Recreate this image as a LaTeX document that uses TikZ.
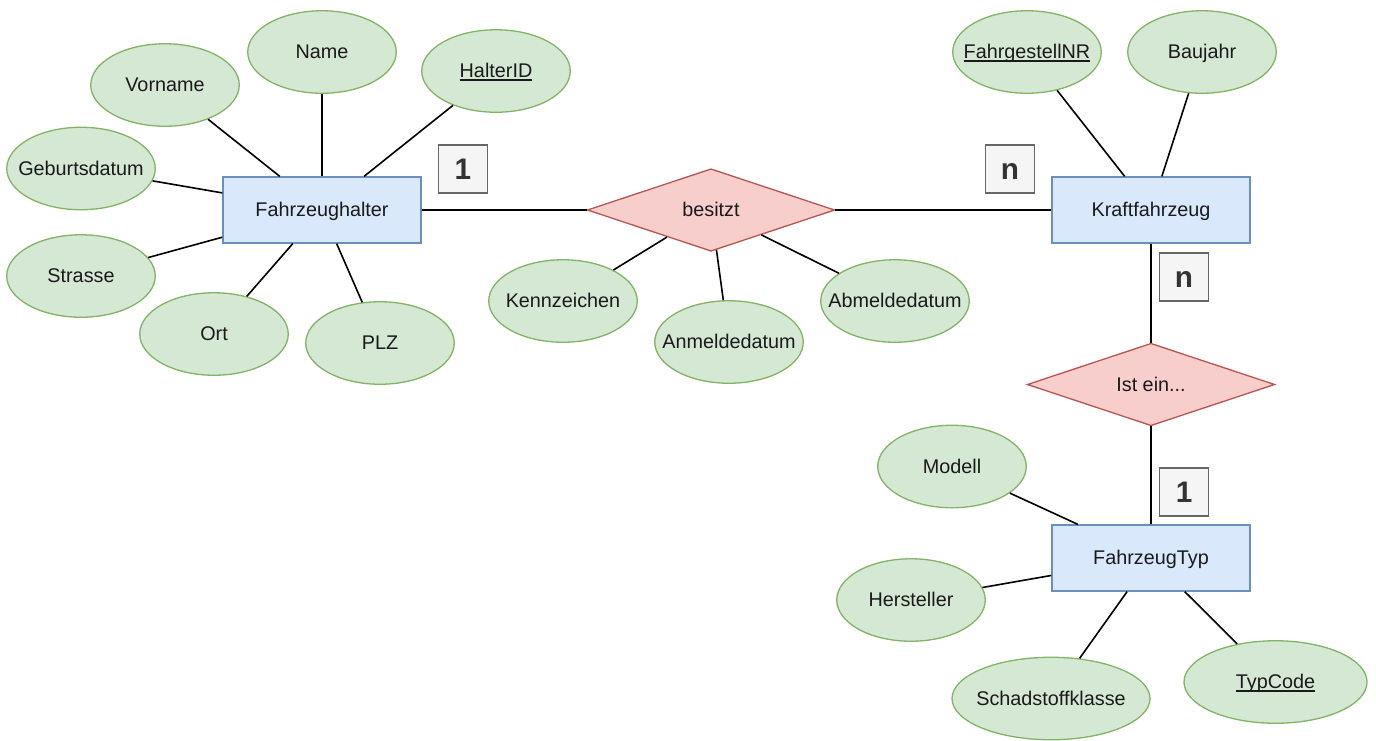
\documentclass[tikz,border=0pt]{standalone}
\usepackage{fontspec}
\setmainfont{Liberation Sans}
\usetikzlibrary{shapes.geometric}
\definecolor{entF}{HTML}{DAE8FC}
\definecolor{entB}{HTML}{6C8EBF}
\definecolor{relF}{HTML}{F8CECC}
\definecolor{relB}{HTML}{B85450}
\definecolor{attF}{HTML}{D5E8D4}
\definecolor{attB}{HTML}{82B366}
\definecolor{cardF}{HTML}{F5F5F5}
\definecolor{cardB}{HTML}{666666}
\definecolor{cardT}{HTML}{333333}
\definecolor{txt}{HTML}{1A1A1A}
\newcommand{\keyul}[1]{\setbox0\hbox{#1}\rlap{\rule[-2.6pt]{\wd0}{1.3pt}}\box0}
\tikzset{
  lbl/.style={font=\fontsize{19.8}{23.8}\selectfont, text=txt, text height=17.8pt, text depth=4pt, inner sep=0pt,
    execute at begin node={\hbox to 0pt\bgroup\hss}, execute at end node={\hss\egroup}},
  entity/.style={lbl, draw=entB, fill=entF, line width=1.3pt, minimum width=198pt, minimum height=66pt},
  relation/.style={lbl, diamond, draw=relB, fill=relF, line width=1.3pt, minimum width=247.5pt, minimum height=82.5pt},
  attr/.style={lbl, ellipse, draw=attB, fill=attF, line width=1.3pt, minimum width=148.5pt, minimum height=82.5pt},
  card/.style={draw=cardB, fill=cardF, text=cardT, line width=1.3pt, font=\fontsize{29.7}{35}\selectfont\bfseries, minimum width=49.5pt, minimum height=48pt, inner sep=0pt, text height=21.5pt, text depth=0pt},
  edge/.style={draw=black, line width=1.6pt}
}
\begin{document}
\begin{tikzpicture}[x=1pt,y=-1pt]
\useasboundingbox (0,0) rectangle (1376,740);
% entities
\node[entity] (fh) at (322,210) {Fahrzeughalter};
\node[entity] (kfz) at (1151,210) {Kraftfahrzeug};
\node[entity] (typ) at (1151,558) {FahrzeugTyp};
% relations
\node[relation] (bes) at (711,210) {besitzt};
\node[relation] (ist) at (1151,384.5) {Ist ein...};
% attributes of Fahrzeughalter
\node[attr] (name) at (322,52) {Name};
\node[attr] (vorname) at (165,85) {Vorname};
\node[attr] (halterid) at (496,71) {\keyul{HalterID}};
\node[attr] (geb) at (81,168.5) {Geburtsdatum};
\node[attr] (strasse) at (81,276) {Strasse};
\node[attr] (ort) at (214,334) {Ort};
\node[attr] (plz) at (380,343) {PLZ};
% attributes of besitzt
\node[attr] (kenn) at (563,301) {Kennzeichen};
\node[attr] (anm) at (729,342) {Anmeldedatum};
\node[attr] (abm) at (895,301) {Abmeldedatum};
% attributes of Kraftfahrzeug
\node[attr] (fgnr) at (1027,52) {\keyul{FahrgestellNR}};
\node[attr] (bj) at (1202,52) {Baujahr};
% attributes of FahrzeugTyp
\node[attr] (modell) at (952,466.5) {Modell};
\node[attr] (herst) at (911,600) {Hersteller};
\node[attr, minimum width=198pt] (schad) at (1051,698.5) {Schadstoffklasse};
\node[attr, minimum width=183pt] (tc) at (1275.5,682) {\keyul{TypCode}};
% cardinalities
\node[card] (c1) at (463,169) {1};
\node[card] (c2) at (1010,169) {n};
\node[card] (c3) at (1184,277) {n};
\node[card] (c4) at (1184,492) {1};
% connectors
\draw[edge] (fh) -- (bes);
\draw[edge] (bes) -- (kfz);
\draw[edge] (kfz) -- (ist);
\draw[edge] (ist) -- (typ);
\foreach \a in {name,vorname,halterid,geb,strasse,ort,plz} \draw[edge] (\a) -- (fh);
\foreach \a in {kenn,anm,abm} \draw[edge] (\a) -- (bes);
\foreach \a in {fgnr,bj} \draw[edge] (\a) -- (kfz);
\foreach \a in {modell,herst,schad,tc} \draw[edge] (\a) -- (typ);
\end{tikzpicture}
\end{document}
